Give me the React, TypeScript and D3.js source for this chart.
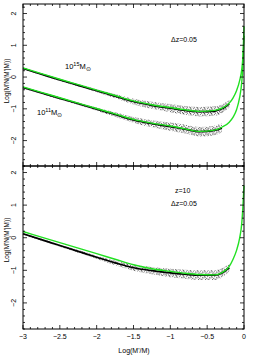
import React from 'react';
import * as d3 from 'd3';

// log(M'/M) grid for the analytic (green) curves
const fitX = [-3, -2.75, -2.5, -2.25, -2, -1.75, -1.5, -1.25, -1, -0.8, -0.6, -0.4, -0.3, -0.2, -0.15, -0.1, -0.06, -0.03, -0.015, 0];
const fit15 = [0.29, 0.11, -0.07, -0.24, -0.41, -0.58, -0.75, -0.87, -0.96, -1.03, -1.08, -1.05, -0.98, -0.82, -0.66, -0.42, -0.12, 0.25, 0.65, 1.6];
const fit11 = [-0.31, -0.48, -0.65, -0.82, -0.99, -1.16, -1.33, -1.45, -1.54, -1.63, -1.71, -1.67, -1.58, -1.42, -1.27, -1.02, -0.65, -0.15, 0.35, 1.3];
const fitZ10 = [0.19, 0.02, -0.15, -0.32, -0.49, -0.66, -0.83, -0.95, -1.03, -1.09, -1.13, -1.14, -1.07, -0.88, -0.67, -0.38, -0.02, 0.45, 0.95, 1.6];

// simulation (black) points: median and visible scatter half-width
const simX = [-3, -2.75, -2.5, -2.25, -2, -1.75, -1.5, -1.25, -1, -0.8, -0.6, -0.4, -0.3, -0.2];
const sim15 = [0.27, 0.09, -0.09, -0.26, -0.43, -0.6, -0.77, -0.89, -0.98, -1.05, -1.09, -1.07, -1.0, -0.84];
const sim11 = [-0.33, -0.5, -0.67, -0.84, -1.01, -1.18, -1.35, -1.47, -1.56, -1.64, -1.72, -1.68, -1.6];
const simZ10 = [0.12, -0.06, -0.24, -0.42, -0.6, -0.77, -0.92, -1.01, -1.08, -1.12, -1.15, -1.15, -1.08, -0.92];
const spread = [0.03, 0.03, 0.035, 0.04, 0.05, 0.07, 0.09, 0.11, 0.13, 0.14, 0.15, 0.15, 0.14, 0.12];

const xTickLabels = ['−3', '−2.5', '−2', '−1.5', '−1', '−0.5', '0'];
const yTickLabels = ['2', '1', '0', '−1', '−2'];

// speckle positions inside one pattern tile
const speckX = [0.5, 3.2, 5.6, 1.9, 4.4, 6.5, 0.9, 3.8, 2.6, 5.1, 1.4, 6.1, 4.9, 2.2];
const speckY = [0.6, 0.3, 1.1, 2.0, 2.4, 3.0, 3.6, 4.1, 5.2, 5.0, 1.3, 4.6, 0.5, 3.1];

const X0 = 23, X1 = 244;
const panels = [
  { top: 4, bottom: 166, domain: [-2.8, 2.3], title: 81 },
  { top: 166, bottom: 329, domain: [-2.8, 2.2], title: 240 },
];
const green = '#22e022';
const font = 'Liberation Sans, Arial, sans-serif';

function Panel({ p, fits, sims, showX }: any) {
  const x = d3.scaleLinear().domain([-3, 0]).range([X0, X1]);
  const y = d3.scaleLinear().domain(p.domain).range([p.bottom, p.top]);
  const line = d3.line<number>().x((d, i) => x(fitX[i])).y(d => y(d)).curve(d3.curveMonotoneX);
  const simLine = d3.line<number>().x((d, i) => x(simX[i])).y(d => y(d)).curve(d3.curveMonotoneX);
  const band = d3.area<number>()
    .x((d, i) => x(simX[i]))
    .y0((d, i) => y(d - spread[i]))
    .y1((d, i) => y(d + spread[i]))
    .curve(d3.curveMonotoneX);

  const xt = d3.range(-30, 1);
  const yt = d3.range(Math.ceil(p.domain[0] * 5), Math.floor(p.domain[1] * 5) + 1);

  return (
    <g>
      {sims.map((s: number[], k: number) => (
        <g key={'s' + k}>
          <path d={band(s) || ''} fill="url(#speck)" stroke="none" />
          <path d={simLine(s) || ''} fill="none" stroke="#000" strokeWidth={1.7} />
        </g>
      ))}
      {fits.map((f: number[], k: number) => (
        <path key={'f' + k} d={line(f) || ''} fill="none" stroke={green} strokeWidth={1.4} />
      ))}
      <rect x={X0} y={p.top} width={X1 - X0} height={p.bottom - p.top} fill="none" stroke="#000" strokeWidth={1} />
      {xt.map(i => {
        const len = i % 5 === 0 ? 4 : 2;
        const xx = x(i / 10);
        return (
          <g key={'x' + i}>
            <line x1={xx} x2={xx} y1={p.bottom} y2={p.bottom - len} stroke="#000" strokeWidth={0.8} />
            <line x1={xx} x2={xx} y1={p.top} y2={p.top + len} stroke="#000" strokeWidth={0.8} />
          </g>
        );
      })}
      {yt.map(i => {
        const len = i % 5 === 0 ? 4 : 2;
        const yy = y(i / 5);
        return (
          <g key={'y' + i}>
            <line x1={X0} x2={X0 + len} y1={yy} y2={yy} stroke="#000" strokeWidth={0.8} />
            <line x1={X1} x2={X1 - len} y1={yy} y2={yy} stroke="#000" strokeWidth={0.8} />
          </g>
        );
      })}
      {yTickLabels.map((t, i) => {
        const yy = y(2 - i);
        return (
          <text key={'yl' + i} x={16} y={yy} fontSize={7} textAnchor="middle"
            transform={`rotate(-90, 16, ${yy})`}>{t}</text>
        );
      })}
      <text x={9} y={p.title} fontSize={6.5} textAnchor="middle"
        transform={`rotate(-90, 9, ${p.title})`}>Log(M'N(M'|M))</text>
      {showX && xTickLabels.map((t, i) => (
        <text key={'xl' + i} x={x(-3 + i * 0.5)} y={339} fontSize={7} textAnchor="middle">{t}</text>
      ))}
    </g>
  );
}

export default function App() {
  return (
    <svg width={276} height={358} style={{ position: 'absolute', left: 0, top: 0, fontFamily: font }}>
      <defs>
        <pattern id="speck" width={7} height={5.6} patternUnits="userSpaceOnUse">
          {speckX.map((sx, i) => (
            <circle key={i} cx={sx} cy={speckY[i]} r={0.5} fill="#333" />
          ))}
        </pattern>
      </defs>
      <rect width={276} height={358} fill="#fff" />
      <Panel p={panels[0]} fits={[fit15, fit11]} sims={[sim15, sim11]} showX={false} />
      <Panel p={panels[1]} fits={[fitZ10]} sims={[simZ10]} showX={true} />
      <text x={65} y={69} fontSize={7.5}>10<tspan dy={-3} fontSize={5.5}>15</tspan><tspan dy={3}>M</tspan><tspan dy={1.5} fontSize={5.5}>⊙</tspan></text>
      <text x={37} y={115} fontSize={7.5}>10<tspan dy={-3} fontSize={5.5}>11</tspan><tspan dy={3}>M</tspan><tspan dy={1.5} fontSize={5.5}>⊙</tspan></text>
      <text x={171} y={42} fontSize={7}>Δz=0.05</text>
      <text x={175} y={193} fontSize={7}>z=10</text>
      <text x={171} y={206} fontSize={7}>Δz=0.05</text>
      <text x={134} y={353} fontSize={7} textAnchor="middle">Log(M'/M)</text>
    </svg>
  );
}
